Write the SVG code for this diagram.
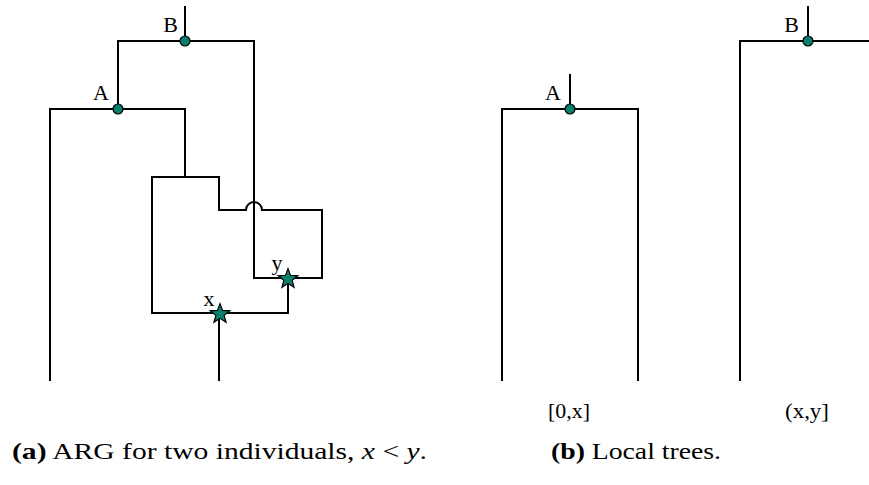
<svg xmlns="http://www.w3.org/2000/svg" xmlns:xlink="http://www.w3.org/1999/xlink" width="869" height="485" viewBox="0 0 869 485">
<style>
.e{fill:none;stroke:#000;stroke-width:2;stroke-linecap:square}
.n{fill:#0b7f6e;stroke:#000;stroke-width:1.2}
.t{font-family:"Liberation Serif","DejaVu Serif",serif;font-size:22px;fill:#000}
.c{font-family:"Liberation Serif","DejaVu Serif",serif;font-size:24px;fill:#000}
</style>
<defs>
<polygon id="star" points="0,-10.4 2.57,-3.53 9.85,-3.2 4.15,1.35 6.08,8.37 0,4.37 -6.08,8.37 -4.15,1.35 -9.85,-3.2 -2.57,-3.53"/>
</defs>
<rect width="869" height="485" fill="#fff"/>
<g id="connectors">
<path class="e" d="M185,7 V41"/>
<path class="e" d="M118,109 V41 H254 V278 H322 V210 H262 A8,8 0 0 0 246,210 H219 V177 H152 V313 H288 V278"/>
<path class="e" d="M50,380 V109 H185 V177"/>
<path class="e" d="M219,313 V380"/>
<path class="e" d="M570,75 V109"/>
<path class="e" d="M502,380 V109 H638 V380"/>
<path class="e" d="M808,7 V41"/>
<path class="e" d="M740,380 V41 H869"/>
</g>
<g id="node-B"><circle class="n" cx="185" cy="41" r="5"/><text class="t" x="178" y="32" text-anchor="end">B</text></g>
<g id="node-A"><circle class="n" cx="118" cy="109" r="5"/><text class="t" x="109" y="100" text-anchor="end">A</text></g>
<g id="node-x"><use href="#star" xlink:href="#star" x="220" y="314" class="n"/><text class="t" x="209" y="306" text-anchor="middle">x</text></g>
<g id="node-y"><use href="#star" xlink:href="#star" x="288" y="279" class="n"/><text class="t" x="277" y="270" text-anchor="middle">y</text></g>
<g id="node-A2"><circle class="n" cx="570" cy="109" r="5"/><text class="t" x="561" y="100" text-anchor="end">A</text></g>
<g id="node-B2"><circle class="n" cx="808" cy="41" r="5"/><text class="t" x="799" y="32" text-anchor="end">B</text></g>
<text class="t" x="548" y="418" textLength="42" lengthAdjust="spacingAndGlyphs">[0,x]</text>
<text class="t" x="785" y="418" textLength="44" lengthAdjust="spacingAndGlyphs">(x,y]</text>
<text class="c" x="12" y="459" textLength="415" lengthAdjust="spacingAndGlyphs"><tspan font-weight="bold">(a)</tspan> ARG for two individuals, <tspan font-style="italic">x</tspan> &lt; <tspan font-style="italic">y</tspan>.</text>
<text class="c" x="551" y="459" textLength="170" lengthAdjust="spacingAndGlyphs"><tspan font-weight="bold">(b)</tspan> Local trees.</text>
</svg>
